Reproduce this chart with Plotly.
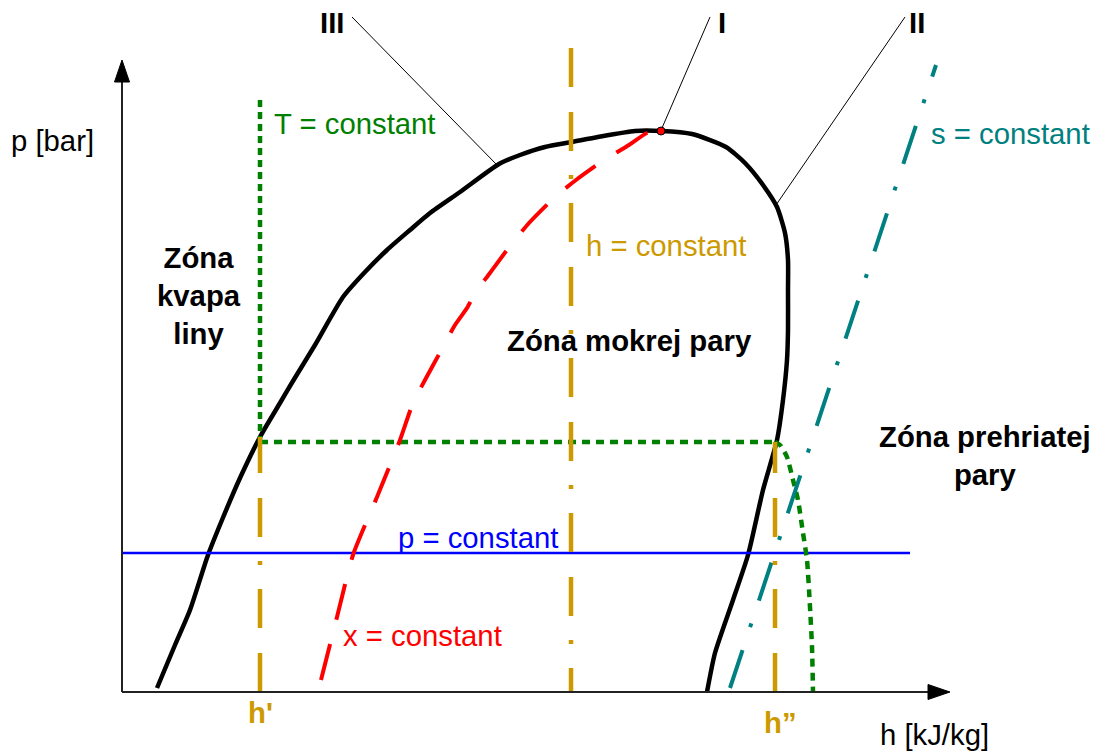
import plotly.graph_objects as go

FONT = "Liberation Sans, Arial, sans-serif"
GOLD = "#CC9900"
GREEN = "#008000"
TEAL = "#008080"
RED = "#FF0000"
BLUE = "#0000FF"

# ---- Schematic p-h diagram data (diagram units: h to the right, p upward) ----
# saturation curve (boiling line III -> critical point I -> dew line II)
sat_h = [35, 53, 68, 86, 100, 118, 138, 158, 171, 193, 221, 243, 265, 288, 308, 338,
         377, 398, 423, 450, 476, 513, 539, 570, 604, 623, 641, 655, 663, 666, 666,
         666, 665, 661, 655, 641, 626, 611, 593, 585]
sat_p = [4, 47, 82, 137, 172, 214, 255, 289, 311, 347, 395, 420, 442, 462, 479, 500,
         528, 537, 545, 550, 555, 561, 561, 558, 545, 529, 507, 485, 459, 432, 402,
         362, 332, 292, 252, 202, 137, 92, 39, 0]

# constant dryness line x = const
x_h = [199, 215, 231, 255, 278, 291, 303, 321, 333, 345, 353, 368, 385, 407, 433,
       454, 482, 507, 525, 539]
x_p = [12, 75, 137, 195, 252, 289, 312, 345, 367, 384, 399, 419, 442, 469, 495,
       512, 532, 547, 559, 561]

# critical point
crit_h = [539]
crit_p = [561]

# isotherm T = const (liquid part, wet part, superheated part)
t_vert_h = [138, 138]
t_vert_p = [592, 250]
t_wet_h = [138, 653]
t_wet_p = [250, 250]
t_sup_h = [653, 658, 665, 671, 676, 681, 685, 688, 690, 691]
t_sup_p = [250, 247, 235, 212, 192, 159, 132, 85, 45, 0]

# isentrope s = const
s_h = [608, 814]
s_p = [4, 627]

# isobar p = const
pc_h = [0, 788]
pc_p = [139, 139]

# isenthalps h = const (h', middle, h'')
h1_h, h1_p = [138, 138], [0, 255]
hm_h, hm_p = [449, 449], [644, 0]
h2_h, h2_p = [653, 653], [0, 250]

# leader lines for labels I, II, III
lead_III_h, lead_III_p = [230, 375], [675, 527]
lead_I_h, lead_I_p = [588, 540], [675, 564]
lead_II_h, lead_II_p = [783, 654], [675, 487]

# axis extents
H_AXIS_END = 828
P_AXIS_END = 632
ARROW_LEN = 22
ARROW_HALF = 7.5

fig = go.Figure()

def line(h, p, color, width, dash="solid", shape="spline"):
    fig.add_trace(go.Scatter(x=h, y=p, mode="lines", hoverinfo="skip",
                             line=dict(color=color, width=width, dash=dash,
                                       shape=shape, smoothing=0.6)))

# leader lines
for lh, lp in [(lead_III_h, lead_III_p), (lead_I_h, lead_I_p), (lead_II_h, lead_II_p)]:
    fig.add_trace(go.Scatter(x=lh, y=lp, mode="lines", hoverinfo="skip",
                             line=dict(color="black", width=1)))

line(sat_h, sat_p, "black", 4.5)
line(pc_h, pc_p, BLUE, 2.5, shape="linear")
line(t_vert_h, t_vert_p, GREEN, 4.5, "7px,5px", shape="linear")
line(t_wet_h, t_wet_p, GREEN, 4.5, "8px,6px", shape="linear")
line(t_sup_h, t_sup_p, GREEN, 4.5, "8px,6px")
line(s_h, s_p, TEAL, 4, "40px,24px,4px,24px", shape="linear")
line(x_h, x_p, RED, 4, "37px,25px")
line(h1_h, h1_p, GOLD, 4.5, "39px,25px,39px,24px,4px,24px", shape="linear")
line(hm_h, hm_p, GOLD, 4.5, "39px,25px,39px,24px,4px,24px", shape="linear")
line(h2_h, h2_p, GOLD, 4.5, "39px,25px,39px,24px,4px,24px", shape="linear")

fig.add_trace(go.Scatter(x=crit_h, y=crit_p, mode="markers", hoverinfo="skip",
                         marker=dict(color=RED, size=8, line=dict(color="black", width=1))))

# axes with arrows
shapes = [
    dict(type="line", xref="x", yref="y", x0=0, y0=0, x1=0, y1=P_AXIS_END - ARROW_LEN,
         line=dict(color="#222222", width=2)),
    dict(type="line", xref="x", yref="y", x0=0, y0=0, x1=H_AXIS_END - ARROW_LEN, y1=0,
         line=dict(color="#222222", width=2)),
    dict(type="path", xref="x", yref="y",
         path=f"M {-ARROW_HALF},{P_AXIS_END-ARROW_LEN} L {ARROW_HALF},{P_AXIS_END-ARROW_LEN} L 0,{P_AXIS_END} Z",
         fillcolor="black", line=dict(color="black", width=1)),
    dict(type="path", xref="x", yref="y",
         path=f"M {H_AXIS_END-ARROW_LEN},{-ARROW_HALF} L {H_AXIS_END-ARROW_LEN},{ARROW_HALF} L {H_AXIS_END},0 Z",
         fillcolor="black", line=dict(color="black", width=1)),
]

FS = 29.3

def txt(x, y, s, color="black", bold=False, xanchor="center", size=FS):
    return dict(x=x, y=y, xref="x", yref="y", text=(f"<b>{s}</b>" if bold else s),
                showarrow=False, xanchor=xanchor, yanchor="middle",
                font=dict(family=FONT, size=size, color=color))

annotations = [
    txt(210, 670, "III", bold=True),
    txt(600, 670, "I", bold=True),
    txt(795, 670, "II", bold=True),
    txt(-70, 552, "p [bar]"),
    txt(150, 569, "T = constant", GREEN, xanchor="left"),
    txt(807, 559, "s = constant", TEAL, xanchor="left"),
    txt(462, 447, "h = constant", GOLD, xanchor="left"),
    txt(507, 352, "Zóna mokrej pary", bold=True),
    txt(77, 397, "Zóna<br>kvapa<br>liny", bold=True),
    txt(863, 237, "Zóna prehriatej<br>pary", bold=True),
    txt(274, 155, "p = constant", BLUE, xanchor="left"),
    txt(219, 57, "x = constant", RED, xanchor="left"),
    txt(138, -20, "h'", GOLD, bold=True),
    txt(658, -30, "h”", GOLD, bold=True),
    txt(812, -42, "h [kJ/kg]"),
]

fig.update_layout(
    width=1094, height=753,
    margin=dict(l=0, r=0, t=0, b=0),
    paper_bgcolor="white", plot_bgcolor="white",
    showlegend=False,
    xaxis=dict(range=[-122, 972], visible=False, fixedrange=True),
    yaxis=dict(range=[-61, 692], visible=False, fixedrange=True),
    shapes=shapes, annotations=annotations,
)

# remove the default 8px page margin so the figure fills the window exactly
fig.write_html("out.html",
               config={"displayModeBar": False, "staticPlot": True},
               post_script="document.body.style.margin='0';document.body.style.overflow='hidden';")
